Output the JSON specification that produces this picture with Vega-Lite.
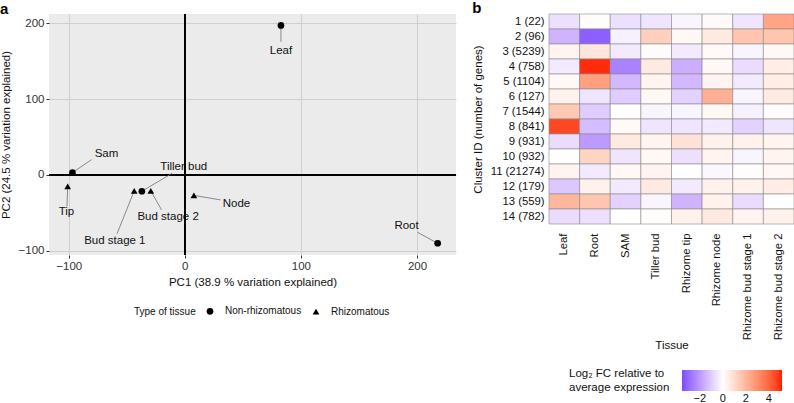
{
  "$schema": "https://vega.github.io/schema/vega-lite/v6.json",
  "padding": {"left": 0, "top": 0, "right": 0, "bottom": 0},
  "background": "white",
  "config": {
    "font": "Liberation Sans",
    "axis": {"labelFont": "Liberation Sans", "titleFont": "Liberation Sans", "titleFontWeight": "normal", "labelColor": "#333333", "titleColor": "#111111"},
    "legend": {"labelFont": "Liberation Sans", "titleFont": "Liberation Sans", "titleFontWeight": "normal"},
    "title": {"font": "Liberation Sans"}
  },
  "datasets": {
    "pca": [
      {"tissue": "Leaf", "type": "Non-rhizomatous", "pc1": 82.8, "pc2": 197, "label_x": 82.8, "label_y": 163.6, "seg_x": 82.8, "seg_y": 175.4},
      {"tissue": "Root", "type": "Non-rhizomatous", "pc1": 217.8, "pc2": -90, "label_x": 191, "label_y": -66.7, "seg_x": 200.3, "seg_y": -75.5},
      {"tissue": "Sam", "type": "Non-rhizomatous", "pc1": -96.8, "pc2": 3, "label_x": -67.5, "label_y": 27.6, "seg_x": -80.4, "seg_y": 20.1},
      {"tissue": "Tiller bud", "type": "Non-rhizomatous", "pc1": -37, "pc2": -21.5, "label_x": -0.9, "label_y": 10, "seg_x": -10.9, "seg_y": 2.1},
      {"tissue": "Tip", "type": "Rhizomatous", "pc1": -100.9, "pc2": -15, "label_x": -102, "label_y": -49, "seg_x": -101.5, "seg_y": -41.3},
      {"tissue": "Bud stage 1", "type": "Rhizomatous", "pc1": -43.6, "pc2": -21, "label_x": -60.3, "label_y": -86.4, "seg_x": -58.4, "seg_y": -77.6},
      {"tissue": "Bud stage 2", "type": "Rhizomatous", "pc1": -29.3, "pc2": -21, "label_x": -14.4, "label_y": -54.9, "seg_x": -20.1, "seg_y": -46},
      {"tissue": "Node", "type": "Rhizomatous", "pc1": 7.8, "pc2": -27, "label_x": 44.5, "label_y": -38.2, "seg_x": 30.8, "seg_y": -32.9}
    ],
    "heat": [
      {"cluster": "1 (22)", "tissue": "Leaf", "value": -0.6},
      {"cluster": "1 (22)", "tissue": "Root", "value": 0.05},
      {"cluster": "1 (22)", "tissue": "SAM", "value": -0.6},
      {"cluster": "1 (22)", "tissue": "Tiller bud", "value": -0.5},
      {"cluster": "1 (22)", "tissue": "Rhizome tip", "value": -0.2},
      {"cluster": "1 (22)", "tissue": "Rhizome node", "value": 0.15},
      {"cluster": "1 (22)", "tissue": "Rhizome bud stage 1", "value": -0.5},
      {"cluster": "1 (22)", "tissue": "Rhizome bud stage 2", "value": 2.5},
      {"cluster": "2 (96)", "tissue": "Leaf", "value": -1.5},
      {"cluster": "2 (96)", "tissue": "Root", "value": -3.2},
      {"cluster": "2 (96)", "tissue": "SAM", "value": -0.3},
      {"cluster": "2 (96)", "tissue": "Tiller bud", "value": 1.3},
      {"cluster": "2 (96)", "tissue": "Rhizome tip", "value": 0.2},
      {"cluster": "2 (96)", "tissue": "Rhizome node", "value": 0.6},
      {"cluster": "2 (96)", "tissue": "Rhizome bud stage 1", "value": 1.6},
      {"cluster": "2 (96)", "tissue": "Rhizome bud stage 2", "value": 1.6},
      {"cluster": "3 (5239)", "tissue": "Leaf", "value": 0.3},
      {"cluster": "3 (5239)", "tissue": "Root", "value": 0.7},
      {"cluster": "3 (5239)", "tissue": "SAM", "value": -0.4},
      {"cluster": "3 (5239)", "tissue": "Tiller bud", "value": 0.1},
      {"cluster": "3 (5239)", "tissue": "Rhizome tip", "value": -0.4},
      {"cluster": "3 (5239)", "tissue": "Rhizome node", "value": 0.15},
      {"cluster": "3 (5239)", "tissue": "Rhizome bud stage 1", "value": -0.2},
      {"cluster": "3 (5239)", "tissue": "Rhizome bud stage 2", "value": 0.2},
      {"cluster": "4 (758)", "tissue": "Leaf", "value": -0.4},
      {"cluster": "4 (758)", "tissue": "Root", "value": 5.0},
      {"cluster": "4 (758)", "tissue": "SAM", "value": -2.5},
      {"cluster": "4 (758)", "tissue": "Tiller bud", "value": 0.6},
      {"cluster": "4 (758)", "tissue": "Rhizome tip", "value": -1.6},
      {"cluster": "4 (758)", "tissue": "Rhizome node", "value": 0.2},
      {"cluster": "4 (758)", "tissue": "Rhizome bud stage 1", "value": -0.7},
      {"cluster": "4 (758)", "tissue": "Rhizome bud stage 2", "value": 0.5},
      {"cluster": "5 (1104)", "tissue": "Leaf", "value": 0.2},
      {"cluster": "5 (1104)", "tissue": "Root", "value": 2.6},
      {"cluster": "5 (1104)", "tissue": "SAM", "value": -1.4},
      {"cluster": "5 (1104)", "tissue": "Tiller bud", "value": 0.3},
      {"cluster": "5 (1104)", "tissue": "Rhizome tip", "value": -1.4},
      {"cluster": "5 (1104)", "tissue": "Rhizome node", "value": 0.3},
      {"cluster": "5 (1104)", "tissue": "Rhizome bud stage 1", "value": -0.4},
      {"cluster": "5 (1104)", "tissue": "Rhizome bud stage 2", "value": 0.5},
      {"cluster": "6 (127)", "tissue": "Leaf", "value": 0.4},
      {"cluster": "6 (127)", "tissue": "Root", "value": -0.5},
      {"cluster": "6 (127)", "tissue": "SAM", "value": -1.0},
      {"cluster": "6 (127)", "tissue": "Tiller bud", "value": 0.2},
      {"cluster": "6 (127)", "tissue": "Rhizome tip", "value": -0.9},
      {"cluster": "6 (127)", "tissue": "Rhizome node", "value": 2.2},
      {"cluster": "6 (127)", "tissue": "Rhizome bud stage 1", "value": -0.2},
      {"cluster": "6 (127)", "tissue": "Rhizome bud stage 2", "value": 0.6},
      {"cluster": "7 (1544)", "tissue": "Leaf", "value": 1.5},
      {"cluster": "7 (1544)", "tissue": "Root", "value": -1.0},
      {"cluster": "7 (1544)", "tissue": "SAM", "value": 0.0},
      {"cluster": "7 (1544)", "tissue": "Tiller bud", "value": -0.2},
      {"cluster": "7 (1544)", "tissue": "Rhizome tip", "value": -0.2},
      {"cluster": "7 (1544)", "tissue": "Rhizome node", "value": 0.2},
      {"cluster": "7 (1544)", "tissue": "Rhizome bud stage 1", "value": -0.3},
      {"cluster": "7 (1544)", "tissue": "Rhizome bud stage 2", "value": 0.1},
      {"cluster": "8 (841)", "tissue": "Leaf", "value": 4.6},
      {"cluster": "8 (841)", "tissue": "Root", "value": -1.3},
      {"cluster": "8 (841)", "tissue": "SAM", "value": 0.15},
      {"cluster": "8 (841)", "tissue": "Tiller bud", "value": -0.5},
      {"cluster": "8 (841)", "tissue": "Rhizome tip", "value": -0.5},
      {"cluster": "8 (841)", "tissue": "Rhizome node", "value": -0.4},
      {"cluster": "8 (841)", "tissue": "Rhizome bud stage 1", "value": -0.9},
      {"cluster": "8 (841)", "tissue": "Rhizome bud stage 2", "value": -0.5},
      {"cluster": "9 (931)", "tissue": "Leaf", "value": -0.7},
      {"cluster": "9 (931)", "tissue": "Root", "value": -2.0},
      {"cluster": "9 (931)", "tissue": "SAM", "value": 0.6},
      {"cluster": "9 (931)", "tissue": "Tiller bud", "value": 0.3},
      {"cluster": "9 (931)", "tissue": "Rhizome tip", "value": 0.8},
      {"cluster": "9 (931)", "tissue": "Rhizome node", "value": 0.4},
      {"cluster": "9 (931)", "tissue": "Rhizome bud stage 1", "value": 0.4},
      {"cluster": "9 (931)", "tissue": "Rhizome bud stage 2", "value": 0.3},
      {"cluster": "10 (932)", "tissue": "Leaf", "value": 0.0},
      {"cluster": "10 (932)", "tissue": "Root", "value": 1.2},
      {"cluster": "10 (932)", "tissue": "SAM", "value": -0.5},
      {"cluster": "10 (932)", "tissue": "Tiller bud", "value": 0.2},
      {"cluster": "10 (932)", "tissue": "Rhizome tip", "value": -0.6},
      {"cluster": "10 (932)", "tissue": "Rhizome node", "value": 0.3},
      {"cluster": "10 (932)", "tissue": "Rhizome bud stage 1", "value": -0.2},
      {"cluster": "10 (932)", "tissue": "Rhizome bud stage 2", "value": 0.3},
      {"cluster": "11 (21274)", "tissue": "Leaf", "value": 0.3},
      {"cluster": "11 (21274)", "tissue": "Root", "value": -0.4},
      {"cluster": "11 (21274)", "tissue": "SAM", "value": 0.2},
      {"cluster": "11 (21274)", "tissue": "Tiller bud", "value": 0.3},
      {"cluster": "11 (21274)", "tissue": "Rhizome tip", "value": 0.0},
      {"cluster": "11 (21274)", "tissue": "Rhizome node", "value": -0.15},
      {"cluster": "11 (21274)", "tissue": "Rhizome bud stage 1", "value": 0.05},
      {"cluster": "11 (21274)", "tissue": "Rhizome bud stage 2", "value": 0.2},
      {"cluster": "12 (179)", "tissue": "Leaf", "value": -1.1},
      {"cluster": "12 (179)", "tissue": "Root", "value": 0.4},
      {"cluster": "12 (179)", "tissue": "SAM", "value": -0.4},
      {"cluster": "12 (179)", "tissue": "Tiller bud", "value": 0.6},
      {"cluster": "12 (179)", "tissue": "Rhizome tip", "value": -0.4},
      {"cluster": "12 (179)", "tissue": "Rhizome node", "value": 0.4},
      {"cluster": "12 (179)", "tissue": "Rhizome bud stage 1", "value": 0.4},
      {"cluster": "12 (179)", "tissue": "Rhizome bud stage 2", "value": 0.5},
      {"cluster": "13 (559)", "tissue": "Leaf", "value": 2.0},
      {"cluster": "13 (559)", "tissue": "Root", "value": 1.6},
      {"cluster": "13 (559)", "tissue": "SAM", "value": -0.9},
      {"cluster": "13 (559)", "tissue": "Tiller bud", "value": -0.2},
      {"cluster": "13 (559)", "tissue": "Rhizome tip", "value": -1.5},
      {"cluster": "13 (559)", "tissue": "Rhizome node", "value": 0.4},
      {"cluster": "13 (559)", "tissue": "Rhizome bud stage 1", "value": -0.7},
      {"cluster": "13 (559)", "tissue": "Rhizome bud stage 2", "value": 0.0},
      {"cluster": "14 (782)", "tissue": "Leaf", "value": -0.7},
      {"cluster": "14 (782)", "tissue": "Root", "value": -0.6},
      {"cluster": "14 (782)", "tissue": "SAM", "value": 0.0},
      {"cluster": "14 (782)", "tissue": "Tiller bud", "value": 0.05},
      {"cluster": "14 (782)", "tissue": "Rhizome tip", "value": 0.4},
      {"cluster": "14 (782)", "tissue": "Rhizome node", "value": 0.6},
      {"cluster": "14 (782)", "tissue": "Rhizome bud stage 1", "value": 0.3},
      {"cluster": "14 (782)", "tissue": "Rhizome bud stage 2", "value": 0.4}
    ]
  },
  "spacing": 15,
  "hconcat": [
    {
      "width": 407,
      "height": 241,
      "title": {"text": "a", "anchor": "start", "frame": "bounds", "fontSize": 15, "fontWeight": "bold", "offset": -4, "color": "#000000"},
      "view": {"fill": "#EBEBEB", "stroke": null},
      "data": {"name": "pca"},
      "layer": [
        {
          "mark": {"type": "rule", "color": "#000000", "strokeWidth": 1.2},
          "encoding": {
            "x": {"datum": 0, "type": "quantitative", "scale": {"domain": [-117, 233.6], "nice": false, "zero": false},
              "axis": {"values": [-100, 0, 100, 200], "title": "PC1 (38.9 % variation explained)", "titleFontSize": 11.5, "labelFontSize": 11.5, "grid": true, "gridColor": "#CFCFCF", "gridWidth": 1, "domain": false, "tickSize": 3, "tickColor": "#333333", "labelPadding": 2, "titlePadding": 5}}
          }
        },
        {
          "mark": {"type": "rule", "color": "#000000", "strokeWidth": 1.2},
          "encoding": {
            "y": {"datum": 0, "type": "quantitative", "scale": {"domain": [-105.5, 212], "nice": false, "zero": false},
              "axis": {"values": [-100, 0, 100, 200], "title": "PC2 (24.5 % variation explained)", "titleFontSize": 11.5, "labelFontSize": 11.5, "grid": true, "gridColor": "#CFCFCF", "gridWidth": 1, "domain": false, "tickSize": 3, "tickColor": "#333333", "labelPadding": 2, "titlePadding": 7}}
          }
        },
        {
          "mark": {"type": "rule", "color": "#6E6E6E", "strokeWidth": 0.8},
          "encoding": {
            "x": {"field": "pc1", "type": "quantitative"},
            "y": {"field": "pc2", "type": "quantitative"},
            "x2": {"field": "seg_x"},
            "y2": {"field": "seg_y"}
          }
        },
        {
          "mark": {"type": "point", "filled": true, "opacity": 1, "color": "#000000", "size": 45},
          "encoding": {
            "x": {"field": "pc1", "type": "quantitative"},
            "y": {"field": "pc2", "type": "quantitative"},
            "shape": {"field": "type", "type": "nominal",
              "scale": {"domain": ["Non-rhizomatous", "Rhizomatous"], "range": ["circle", "triangle-up"]},
              "legend": {"title": "Type of tissue", "orient": "none", "legendX": 85, "legendY": 292, "direction": "horizontal", "titleOrient": "left", "titleFontSize": 10, "labelFontSize": 10, "titleColor": "#111111", "labelColor": "#111111", "symbolFillColor": "#000000", "symbolStrokeColor": "#000000", "symbolSize": 45, "titlePadding": 9, "labelOffset": 10, "columnPadding": 7, "titleBaseline": "middle"}}
          }
        },
        {
          "mark": {"type": "text", "fontSize": 11.5, "color": "#111111", "baseline": "middle", "align": "center"},
          "encoding": {
            "x": {"field": "label_x", "type": "quantitative"},
            "y": {"field": "label_y", "type": "quantitative"},
            "text": {"field": "tissue"}
          }
        }
      ]
    },
    {
      "width": 245,
      "height": 210,
      "title": {"text": "b", "anchor": "start", "frame": "bounds", "fontSize": 15, "fontWeight": "bold", "offset": -2, "color": "#000000"},
      "view": {"stroke": null},
      "data": {"name": "heat"},
      "mark": {"type": "rect", "stroke": "#8A8A8A", "strokeWidth": 0.6},
      "encoding": {
        "x": {"field": "tissue", "type": "nominal", "sort": null, "scale": {"paddingInner": 0, "paddingOuter": 0},
          "axis": {"title": "Tissue", "labelAngle": -90, "labelFontSize": 11.3, "titleFontSize": 11.5, "ticks": false, "domain": false, "labelPadding": 9, "titlePadding": 0, "labelColor": "#111111"}},
        "y": {"field": "cluster", "type": "nominal", "sort": null, "scale": {"paddingInner": 0, "paddingOuter": 0},
          "axis": {"title": "Cluster ID (number of genes)", "labelFontSize": 11.3, "titleFontSize": 11.5, "ticks": false, "domain": false, "labelPadding": 5, "titlePadding": 7, "labelColor": "#111111"}},
        "fill": {"field": "value", "type": "quantitative",
          "scale": {"domain": [-3.55, 0, 5.15], "range": ["#7B4DFF", "#FFFFFF", "#FF1A00"], "interpolate": "lab"},
          "legend": {"title": ["Log\u2082 FC relative to", "average expression"], "orient": "none", "legendX": 520, "legendY": 356, "direction": "horizontal", "titleOrient": "left", "titleFontSize": 11.5, "labelFontSize": 11, "gradientLength": 100, "gradientThickness": 21, "gradientStrokeWidth": 0, "values": [-2, 0, 2, 4], "titlePadding": 12, "titleColor": "#111111", "labelColor": "#111111"}}
      }
    }
  ]
}
